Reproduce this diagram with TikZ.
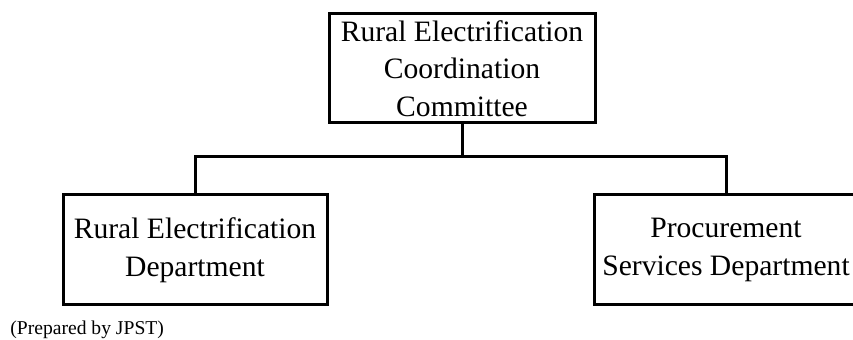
\documentclass[tikz,border=0pt]{standalone}
\usepackage{fontspec}
\setmainfont{Liberation Serif}
\begin{document}
\begin{tikzpicture}[x=1pt,y=1pt,
		unitbox/.style={draw,line width=1.5pt,align=center,inner sep=0pt,
			minimum width=132pt,minimum height=55pt,font=\fontsize{14.8}{18.8}\selectfont},
		link/.style={line width=1.5pt}]
	\useasboundingbox (0,0) rectangle (426.5,-170);
	\clip (0,0) rectangle (426.5,-170);
	\node[unitbox,minimum width=133pt,minimum height=54.5pt] (rec) at (231,-34.25) {Rural Electrification\\Coordination\\Committee};
	\node[unitbox] (red) at (97.5,-125) {Rural Electrification\\Department};
	\node[unitbox] (psd) at (363,-125) {Procurement\\Services Department};
	\coordinate (bus) at (231,-78.5);
	\draw[link] (rec) -- (bus);
	\draw[link] (red.north) |- (bus) -| (psd.north);
	\node[anchor=west,inner sep=0pt,font=\fontsize{9.8}{11}\selectfont] (note) at (5,-165) {(Prepared by JPST)};
\end{tikzpicture}
\end{document}
